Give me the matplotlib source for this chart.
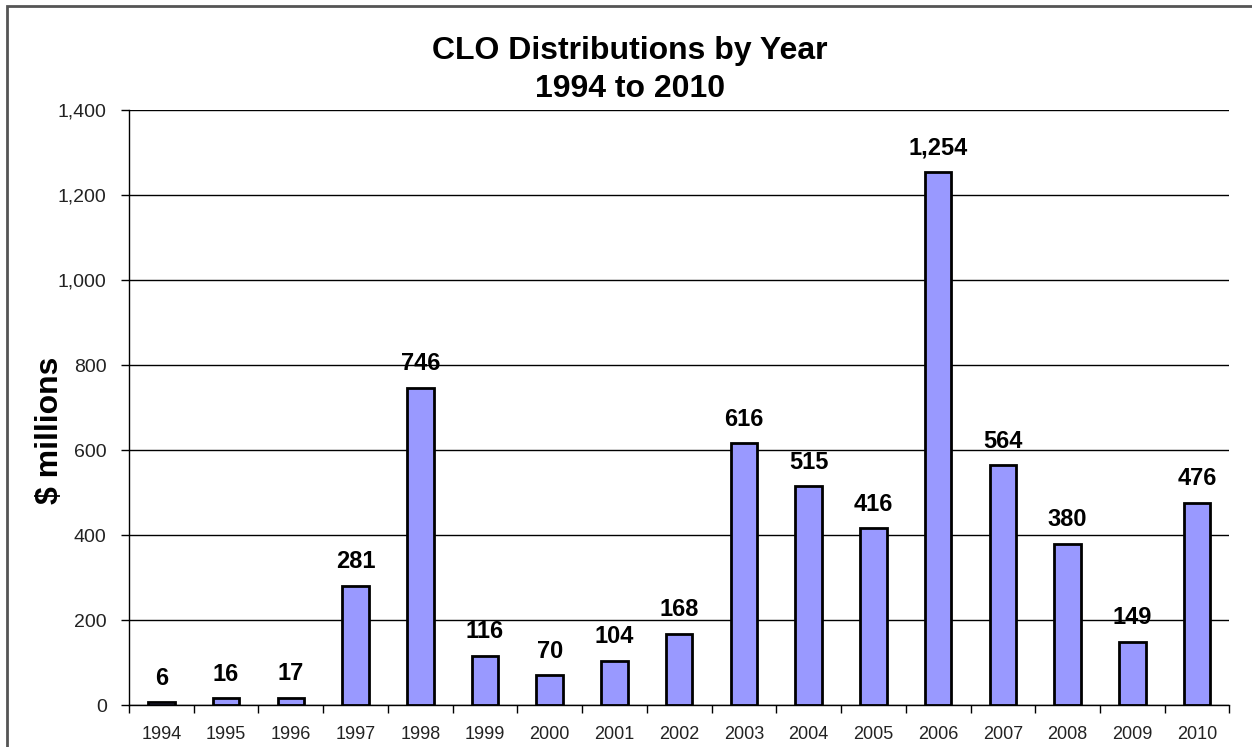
import matplotlib.pyplot as plt
from matplotlib.patches import Rectangle
from matplotlib.ticker import FuncFormatter, FixedLocator

years = ['1994', '1995', '1996', '1997', '1998', '1999', '2000', '2001', '2002',
         '2003', '2004', '2005', '2006', '2007', '2008', '2009', '2010']
values = [6, 16, 17, 281, 746, 116, 70, 104, 168, 616, 515, 416, 1254, 564, 380, 149, 476]

plt.rcParams['font.family'] = ['Liberation Sans', 'DejaVu Sans']

fig = plt.figure(figsize=(12.52, 7.47), dpi=100)
ax = fig.add_axes([0.103, 0.0562, 0.879, 0.7965])

x = list(range(len(years)))
ax.bar(x, values, width=0.41, color='#9999FF', edgecolor='black', linewidth=2, zorder=3)

for xi, v in zip(x, values):
    ax.annotate(f'{v:,}', (xi, v), xytext=(0, 9), textcoords='offset points',
                ha='center', va='bottom', fontsize=17, fontweight='bold', zorder=4)

ax.set_xlim(-0.5, len(years) - 0.5)
ax.set_ylim(0, 1400)
ax.set_yticks(range(0, 1401, 200))
ax.yaxis.set_major_formatter(FuncFormatter(lambda v, p: f'{int(v):,}'))
ax.yaxis.grid(True, color='black', linewidth=1.0, zorder=0)
ax.tick_params(axis='y', length=6, width=1, labelsize=14, pad=10, colors='black')
ax.tick_params(axis='y', labelcolor='#222222')

ax.set_xticks(x)
ax.set_xticklabels(years)
ax.tick_params(axis='x', which='major', length=0, labelsize=13, pad=15, labelcolor='#222222')
ax.xaxis.set_minor_locator(FixedLocator([i + 0.5 for i in range(-1, len(years))]))
ax.tick_params(axis='x', which='minor', length=6, width=1, direction='out')

ax.spines['top'].set_visible(False)
ax.spines['right'].set_visible(False)
ax.spines['left'].set_linewidth(1.0)
ax.spines['bottom'].set_linewidth(1.0)

ax.set_ylabel('$ millions', fontsize=23, fontweight='bold', va='center')
ax.yaxis.set_label_coords(-0.072, 0.462)

fig.text(0.503, 0.932, 'CLO Distributions by Year', ha='center', va='center',
         fontsize=23, fontweight='bold')
fig.text(0.503, 0.881, '1994 to 2010', ha='center', va='center',
         fontsize=23, fontweight='bold')

fig.patches.append(Rectangle((0.0056, -0.02), 1.0, 1.012, transform=fig.transFigure,
                             fill=False, edgecolor='#555555', linewidth=2))

fig.savefig('out.png', dpi=100)
